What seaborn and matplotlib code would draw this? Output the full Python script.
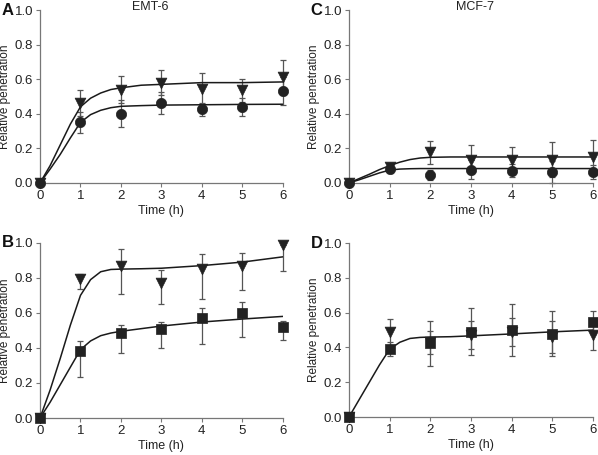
import numpy as np
import pandas as pd
import seaborn as sns
import matplotlib.pyplot as plt

# measured time points
time = [0, 1, 2, 3, 4, 5, 6]

# EMT-6 (panel A)
a_tri = [0, 0.46, 0.54, 0.58, 0.545, 0.535, 0.61]
a_tri_err = [0, 0.075, 0.078, 0.073, 0.09, 0.065, 0.10]
a_circ = [0, 0.35, 0.40, 0.46, 0.425, 0.44, 0.53]
a_circ_err = [0, 0.06, 0.077, 0.063, 0.037, 0.053, 0.08]

# EMT-6 (panel B)
b_tri = [0, 0.795, 0.87, 0.77, 0.85, 0.865, 0.99]
b_tri_lo = [0, 0.06, 0.16, 0.12, 0.17, 0.135, 0.15]
b_tri_hi = [0, 0.025, 0.095, 0.075, 0.085, 0.075, 0.0]
b_sq = [0, 0.385, 0.485, 0.51, 0.57, 0.60, 0.52]
b_sq_lo = [0, 0.15, 0.115, 0.11, 0.15, 0.14, 0.075]
b_sq_hi = [0, 0.055, 0.045, 0.04, 0.06, 0.06, 0.035]

# MCF-7 (panel C)
c_tri = [0, 0.09, 0.177, 0.135, 0.135, 0.135, 0.15]
c_tri_err = [0, 0.025, 0.068, 0.085, 0.073, 0.10, 0.096]
c_circ = [0, 0.083, 0.044, 0.077, 0.071, 0.063, 0.062]
c_circ_err = [0, 0.025, 0.03, 0.057, 0.038, 0.063, 0.042]

# MCF-7 (panel D)
d_tri = [0, 0.49, 0.43, 0.47, 0.49, 0.46, 0.47]
d_tri_err = [0, 0.075, 0.065, 0.08, 0.08, 0.09, 0.085]
d_sq = [0, 0.39, 0.425, 0.49, 0.50, 0.48, 0.545]
d_sq_err = [0, 0.04, 0.13, 0.135, 0.15, 0.13, 0.065]

# fitted curves
fit_t = [0, 0.25, 0.5, 0.75, 1, 1.25, 1.5, 1.75, 2, 2.5, 3, 4, 5, 6]
a_tri_fit = [0, 0.10, 0.22, 0.34, 0.44, 0.49, 0.52, 0.54, 0.55, 0.565, 0.57, 0.58, 0.58, 0.584]
a_circ_fit = [0, 0.08, 0.165, 0.26, 0.35, 0.395, 0.42, 0.435, 0.443, 0.447, 0.45, 0.452, 0.454, 0.455]
b_tri_fit = [0, 0.16, 0.34, 0.53, 0.70, 0.79, 0.835, 0.848, 0.85, 0.852, 0.855, 0.87, 0.89, 0.92]
b_sq_fit = [0, 0.09, 0.19, 0.29, 0.39, 0.44, 0.47, 0.485, 0.495, 0.51, 0.525, 0.548, 0.565, 0.58]
c_tri_fit = [0, 0.025, 0.05, 0.077, 0.10, 0.12, 0.135, 0.144, 0.148, 0.15, 0.15, 0.15, 0.15, 0.15]
c_circ_fit = [0, 0.018, 0.038, 0.058, 0.074, 0.08, 0.082, 0.083, 0.083, 0.083, 0.083, 0.083, 0.083, 0.083]
d_fit = [0, 0.10, 0.20, 0.30, 0.39, 0.43, 0.452, 0.458, 0.46, 0.462, 0.467, 0.478, 0.49, 0.50]

sns.set_style("ticks")
plt.rcParams['font.family'] = ['Liberation Sans', 'DejaVu Sans']

fig = plt.figure(figsize=(5.98, 4.55), dpi=100)
ax_a = fig.add_axes([0.0669, 0.598, 0.406, 0.380])
ax_b = fig.add_axes([0.0669, 0.0813, 0.406, 0.385])
ax_c = fig.add_axes([0.5836, 0.598, 0.408, 0.380])
ax_d = fig.add_axes([0.5836, 0.0835, 0.408, 0.382])

MK = '#222222'
TXT = '#222222'
FS = 8.5


def draw_points(ax, y, err, marker, size):
    ax.errorbar(time, y, yerr=err, fmt='none', ecolor='#555555', elinewidth=0.9,
                capsize=2.5, capthick=0.9, clip_on=False, zorder=2)
    df = pd.DataFrame({'t': time, 'v': y})
    sns.scatterplot(data=df, x='t', y='v', ax=ax, marker=marker, s=size, color=MK,
                    edgecolor=MK, linewidth=0.5, clip_on=False, zorder=4, legend=False)


def draw_fit(ax, y):
    df = pd.DataFrame({'t': fit_t, 'v': y})
    sns.lineplot(data=df, x='t', y='v', ax=ax, color='#1a1a1a', linewidth=1.1,
                 zorder=3, legend=False)


def style(ax, letter):
    ax.set_xlim(0, 6)
    ax.set_ylim(0, 1.0)
    ax.set_xticks(range(0, 7))
    ax.set_yticks(np.arange(0, 1.01, 0.2))
    ax.set_yticklabels(['0.0', '0.2', '0.4', '0.6', '0.8', '1.0'])
    ax.set_xlabel('Time (h)', fontsize=FS + 0.5, color=TXT, labelpad=2)
    ax.set_ylabel('Relative penetration', fontsize=FS, color=TXT)
    ax.yaxis.set_label_coords(-0.118, 0.5)
    ax.tick_params(labelsize=9.5, colors=TXT, length=3, width=0.8, pad=2)
    ax.tick_params(axis='both', color='#777777')
    for s in ['left', 'bottom']:
        ax.spines[s].set_color('#777777')
        ax.spines[s].set_linewidth(0.9)
    sns.despine(ax=ax)
    ax.text(-0.158, 1.0, letter, transform=ax.transAxes, fontsize=12,
            fontweight='bold', va='center', ha='left', color='#111111')


draw_fit(ax_a, a_tri_fit)
draw_fit(ax_a, a_circ_fit)
draw_points(ax_a, a_tri, a_tri_err, 'v', 60)
draw_points(ax_a, a_circ, a_circ_err, 'o', 55)
style(ax_a, 'A')

draw_fit(ax_b, b_tri_fit)
draw_fit(ax_b, b_sq_fit)
draw_points(ax_b, b_tri, [b_tri_lo, b_tri_hi], 'v', 60)
draw_points(ax_b, b_sq, [b_sq_lo, b_sq_hi], 's', 50)
style(ax_b, 'B')

draw_fit(ax_c, c_tri_fit)
draw_fit(ax_c, c_circ_fit)
draw_points(ax_c, c_tri, c_tri_err, 'v', 60)
draw_points(ax_c, c_circ, c_circ_err, 'o', 55)
style(ax_c, 'C')

draw_fit(ax_d, d_fit)
draw_points(ax_d, d_tri, d_tri_err, 'v', 60)
draw_points(ax_d, d_sq, d_sq_err, 's', 50)
style(ax_d, 'D')

# column titles
fig.text(150 / 598, 0.997, 'EMT-6', fontsize=FS + 0.5, ha='center', va='top', color=TXT)
fig.text(475 / 598, 0.997, 'MCF-7', fontsize=FS + 0.5, ha='center', va='top', color=TXT)

fig.savefig('out.png', dpi=100)
